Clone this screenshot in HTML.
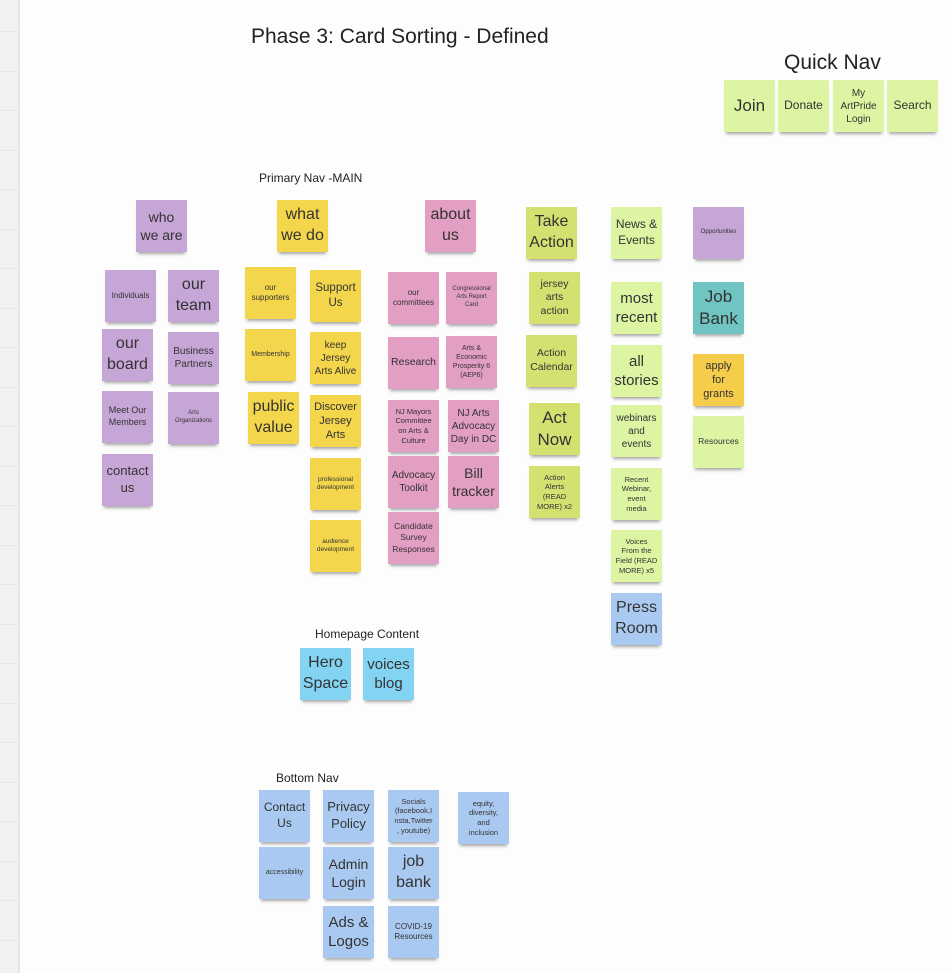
<!DOCTYPE html>
<html><head><meta charset="utf-8"><style>
body{margin:0;width:952px;height:973px;background:#fdfdfd;position:relative;overflow:hidden;font-family:"Liberation Sans","DejaVu Sans",sans-serif;color:#222}
.side{position:absolute;left:0;top:0;width:18px;height:973px;background:#f2f2f2;border-right:2px solid #e6e6e6}
.side i{position:absolute;left:0;width:18px;height:1px;background:#e9e9e9}
.note{position:absolute;width:51px;height:52px;display:flex;align-items:center;justify-content:center;text-align:center;line-height:1.3;box-shadow:0 4px 3px -2px rgba(0,0,0,.35);color:#333;box-sizing:border-box;padding:1px}
.lbl{position:absolute;white-space:nowrap;color:#222}
</style></head><body>
<div class="side" id="side"></div>
<div class="lbl" style="left:251px;top:25px;font-size:21px">Phase 3: Card Sorting - Defined</div>
<div class="lbl" style="left:784px;top:51px;font-size:21px">Quick Nav</div>
<div class="lbl" style="left:259px;top:171px;font-size:12px">Primary Nav -MAIN</div>
<div class="lbl" style="left:315px;top:627px;font-size:12px">Homepage Content</div>
<div class="lbl" style="left:276px;top:771px;font-size:12px">Bottom Nav</div>
<div id="board"></div>
<script>
const side=document.getElementById('side');
for(let y=31;y<973;y+=39.5){const l=document.createElement('i');l.style.top=y+'px';


side.appendChild(l);}
const C={pu:'#c6a6d6',ye:'#f3d64c',pk:'#e39ec3',gr:'#d4e170',lg:'#ddf5a2',te:'#70c4c2',bl:'#aac9f0',cy:'#82d4f2',or:'#f5cd4a'};
// [text, x, y, color, fontSize]
const notes=[
['Join',724,80,'lg',17],['Donate',778,80,'lg',12],['My<br>ArtPride<br>Login',833,80,'lg',10],['Search',887,80,'lg',12],
['who<br>we are',136,200,'pu',14],['what<br>we do',277,200,'ye',16],['about<br>us',425,200,'pk',16],['Take<br>Action',526,207,'gr',16],['News &amp;<br>Events',611,207,'lg',12],['Opportunities',693,207,'pu',6],
['Individuals',105,270,'pu',8],['our<br>team',168,270,'pu',16],['our<br>supporters',245,267,'ye',8],['Support<br>Us',310,270,'ye',11.5],['our<br>committees',388,272,'pk',8],['Congressional<br>Arts Report<br>Card',446,272,'pk',6],['jersey<br>arts<br>action',529,272,'gr',10.5],['most<br>recent',611,282,'lg',15],['Job<br>Bank',693,282,'te',17],
['our<br>board',102,329,'pu',16],['Business<br>Partners',168,332,'pu',10],['Membership',245,329,'ye',7],['keep<br>Jersey<br>Arts Alive',310,332,'ye',10],['Research',388,337,'pk',10.5],['Arts &amp;<br>Economic<br>Prosperity 6<br>(AEP6)',446,336,'pk',7],['Action<br>Calendar',526,335,'gr',10.5],['all<br>stories',611,345,'lg',15],['apply<br>for<br>grants',693,354,'or',11],
['Meet Our<br>Members',102,391,'pu',9],['Arts<br>Organizations',168,392,'pu',6],['public<br>value',248,392,'ye',16],['Discover<br>Jersey<br>Arts',310,395,'ye',11],['NJ Mayors<br>Committee<br>on Arts &amp;<br>Culture',388,400,'pk',7.5],['NJ Arts<br>Advocacy<br>Day in DC',448,400,'pk',10],['Act<br>Now',529,403,'gr',17],['webinars<br>and<br>events',611,405,'lg',10],['Resources',693,416,'lg',8.5],
['contact<br>us',102,454,'pu',13],['professional<br>development',310,458,'ye',6.5],['Advocacy<br>Toolkit',388,456,'pk',10],['Bill<br>tracker',448,456,'pk',14],['Action<br>Alerts<br>(READ<br>MORE) x2',529,466,'gr',7.5],['Recent<br>Webinar,<br>event<br>media',611,468,'lg',7.5],
['audience<br>development',310,520,'ye',6.5],['Candidate<br>Survey<br>Responses',388,512,'pk',8.5],['Voices<br>From the<br>Field (READ<br>MORE) x5',611,530,'lg',7.5],['Press<br>Room',611,593,'bl',16],
['Hero<br>Space',300,648,'cy',16],['voices<br>blog',363,648,'cy',15],
['Contact<br>Us',259,790,'bl',12],['Privacy<br>Policy',323,790,'bl',13],['Socials<br>(facebook,I<br>nsta,Twitter<br>, youtube)',388,790,'bl',7.5],['equity,<br>diversity,<br>and<br>inclusion',458,792,'bl',7.5],
['accessibility',259,847,'bl',7],['Admin<br>Login',323,847,'bl',14],['job<br>bank',388,847,'bl',16],
['Ads &amp;<br>Logos',323,906,'bl',15],['COVID-19<br>Resources',388,906,'bl',8]
];
const board=document.getElementById('board');
notes.forEach(n=>{
  const d=document.createElement('div');
  d.className='note';
  d.innerHTML=n[0];
  d.style.left=n[1]+'px';d.style.top=n[2]+'px';d.style.background=C[n[3]];d.style.fontSize=n[4]+'px';
  
  
  board.appendChild(d);
});
</script>
</body></html>
